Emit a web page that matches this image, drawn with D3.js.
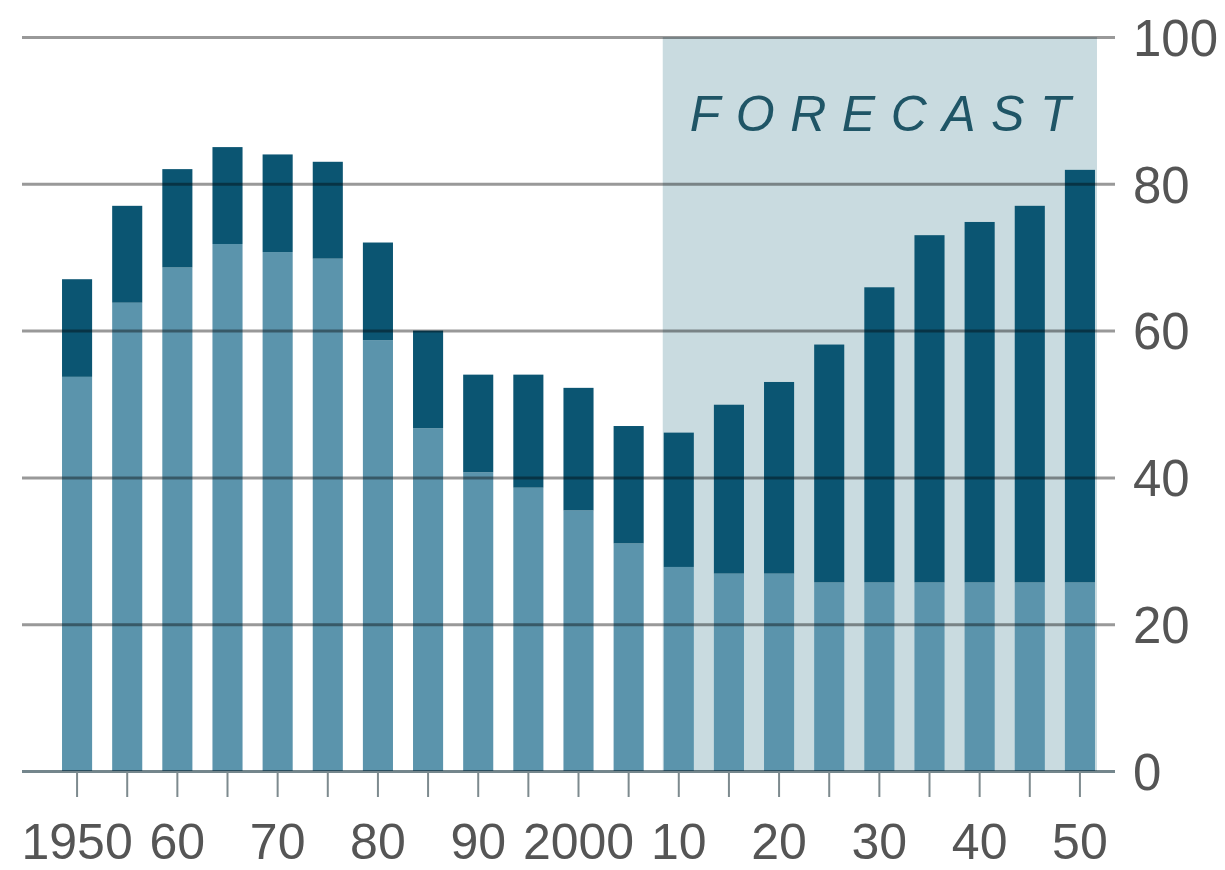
<!DOCTYPE html>
<html>
<head>
<meta charset="utf-8">
<script src="https://cdn.jsdelivr.net/npm/d3@7"></script>
<style>
  body { margin: 0; background: #fff; }
  svg { display: block; font-family: "Liberation Sans", Arial, sans-serif; }
  .grid line { mix-blend-mode: multiply; }
</style>
</head>
<body>
<svg id="chart"></svg>
<script>
// years shown, one bar every five years
const years = [1950, 1955, 1960, 1965, 1970, 1975, 1980, 1985, 1990, 1995, 2000,
  2005, 2010, 2015, 2020, 2025, 2030, 2035, 2040, 2045, 2050]

// light lower segment
const lightValues = [53.7, 63.8, 68.6, 71.8, 70.7, 69.8, 58.7, 46.7, 40.7, 38.6, 35.5,
  31.0, 27.8, 26.9, 26.9, 25.7, 25.7, 25.7, 25.7, 25.7, 25.7]

// dark upper segment
const darkValues = [13.3, 13.2, 13.4, 13.2, 13.3, 13.2, 13.3, 13.3, 13.3, 15.4, 16.7,
  16.0, 18.3, 23.0, 26.1, 32.4, 40.2, 47.3, 49.1, 51.3, 56.2]

const yTicks = [0, 20, 40, 60, 80, 100]
const xLabels = { 1950: '1950', 1960: '60', 1970: '70', 1980: '80', 1990: '90',
  2000: '2000', 2010: '10', 2020: '20', 2030: '30', 2040: '40', 2050: '50' }
const forecastFrom = 2010
const forecastTo = 2050

const width = 1225
const height = 870

const svg = d3.select('#chart')
  .attr('width', width)
  .attr('height', height)

const x = d3.scaleBand()
  .domain(years)
  .range([52, 1105])
  .paddingInner(0.4)
  .paddingOuter(0.2)

const y = d3.scaleLinear()
  .domain([0, 100])
  .range([771, 37])

const gridLeft = 22
const gridRight = 1115

// stacked data
const rows = years.map((yr, i) => ({ year: yr, light: lightValues[i], dark: darkValues[i] }))
const stacked = d3.stack().keys(['light', 'dark'])(rows)
const colors = { light: '#5b94ac', dark: '#0b5572' }

// forecast shading
svg.append('rect')
  .attr('x', x(forecastFrom) - 1)
  .attr('y', y(100))
  .attr('width', x(forecastTo) + x.bandwidth() + 3 - x(forecastFrom))
  .attr('height', y(0) - y(100))
  .attr('fill', '#c9dbe0')

// bars
svg.append('g')
  .selectAll('g')
  .data(stacked)
  .join('g')
  .attr('fill', d => colors[d.key])
  .selectAll('rect')
  .data(d => d)
  .join('rect')
  .attr('x', d => x(d.data.year))
  .attr('y', d => y(d[1]))
  .attr('width', x.bandwidth())
  .attr('height', d => y(d[0]) - y(d[1]))

// gridlines and right-hand labels
const yAxis = d3.axisRight(y)
  .tickValues(yTicks)
  .tickSize(-(gridRight - gridLeft))
  .tickPadding(18)

const grid = svg.append('g')
  .attr('class', 'grid')
  .attr('transform', `translate(${gridRight}, 0)`)
  .call(yAxis)

grid.select('.domain').remove()
grid.selectAll('line')
  .attr('stroke', d => d === 0 ? '#74868c' : '#999')
  .attr('stroke-width', 3)
grid.selectAll('text')
  .attr('fill', '#555')
  .attr('font-size', 51)
  .attr('dy', '0.36em')

// bottom ticks and year labels
const xAxis = d3.axisBottom(x)
  .tickValues(years)
  .tickSize(25)
  .tickPadding(26)
  .tickFormat(d => xLabels[d] || '')

const xg = svg.append('g')
  .attr('transform', `translate(0, ${y(0) + 1})`)
  .call(xAxis)

xg.select('.domain').remove()
xg.selectAll('line')
  .attr('stroke', '#7d8a8e')
  .attr('stroke-width', 2)
xg.selectAll('text')
  .attr('fill', '#555')
  .attr('font-size', 50)

// forecast label
svg.append('text')
  .attr('x', x(forecastFrom) + 26)
  .attr('y', 131)
  .attr('font-size', 50)
  .attr('font-style', 'italic')
  .attr('letter-spacing', 15.5)
  .attr('fill', '#1f5566')
  .text('FORECAST')
</script>
</body>
</html>
